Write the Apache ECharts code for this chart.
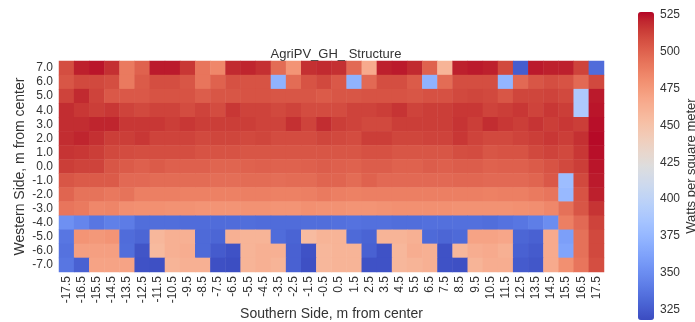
<!DOCTYPE html>
<html>
<head>
<meta charset="utf-8">
<script src="https://cdn.jsdelivr.net/npm/echarts@6/dist/echarts.min.js"></script>
<style>
  html, body { margin: 0; padding: 0; background: #ffffff; }
  #chart { width: 695px; height: 322px; }
</style>
</head>
<body>
<div id="chart"></div>
<script>
// ---- Data ----
const xLabels = ['-17.5','-16.5','-15.5','-14.5','-13.5','-12.5','-11.5','-10.5','-9.5','-8.5',
  '-7.5','-6.5','-5.5','-4.5','-3.5','-2.5','-1.5','-0.5','0.5','1.5','2.5','3.5','4.5','5.5',
  '6.5','7.5','8.5','9.5','10.5','11.5','12.5','13.5','14.5','15.5','16.5','17.5'];
const yLabels = ['7.0','6.0','5.0','4.0','3.0','2.0','1.0','0.0','-1.0','-2.0','-3.0','-4.0','-5.0','-6.0','-7.0'];

const rowP7 = [508,522,524,518,490,500,523,523,516,492,484,520,521,518,496,478,518,520,518,497,466,522,523,520,500,460,522,523,522,510,326,523,522,522,512,333];
const rowP6 = [505,510,510,508,490,503,508,508,505,492,500,507,506,506,372,496,506,510,504,372,497,508,508,503,372,496,508,508,508,374,497,505,508,506,497,510];
const rowP5 = [512,520,512,504,504,504,506,506,506,502,505,505,506,506,505,505,505,503,505,505,506,506,506,505,507,507,510,511,510,505,511,511,512,510,390,523];
const rowP4 = [519,516,514,516,512,510,512,512,509,512,509,516,512,512,510,512,509,509,509,512,512,514,517,512,514,514,516,516,512,514,516,512,516,514,390,524];
const rowP3 = [519,519,521,521,516,516,516,514,516,514,514,514,514,512,512,518,512,519,514,512,510,510,514,514,514,514,517,514,519,516,514,517,514,516,514,525];
const rowP2 = [519,521,518,514,514,516,512,512,512,510,511,511,510,511,509,509,509,511,510,509,514,514,511,511,512,512,516,512,510,510,512,514,516,514,518,526];
const rowP1 = [517,516,514,510,509,508,508,508,508,506,506,506,505,505,505,505,505,505,505,505,507,507,505,505,505,505,508,509,505,506,506,510,512,510,516,525];
const row0  = [514,512,512,505,503,501,503,501,501,501,499,499,500,501,500,500,501,502,501,500,502,502,500,500,502,501,502,502,500,501,501,503,506,510,514,524];
const rowM1 = [505,503,503,503,497,497,496,496,496,496,495,495,496,496,495,496,496,499,499,496,500,497,497,497,497,497,498,498,497,497,497,499,504,380,510,523];
const rowM2 = [499,493,493,491,493,488,488,488,487,487,487,487,488,488,487,487,488,490,488,487,488,488,488,488,488,488,488,488,487,488,488,490,492,377,506,522];
const rowM3 = [492,490,484,485,481,480,480,479,479,478,478,478,479,479,478,478,480,479,479,478,478,479,480,480,480,480,479,479,479,479,480,481,484,494,505,517];
const rowM4 = [352,346,338,343,341,334,334,334,333,333,333,333,334,333,333,333,334,334,335,336,335,335,334,334,335,335,335,335,334,336,338,342,350,488,497,512];
const rowM5 = [338,478,476,478,333,330,458,462,462,332,330,462,460,460,333,329,455,460,460,332,329,460,460,462,332,330,332,470,470,468,330,328,466,360,494,510];
const rowM6 = [336,472,472,472,334,322,456,462,464,332,325,321,460,462,462,328,321,458,460,460,328,321,458,464,462,321,458,464,466,462,328,325,466,363,494,510];
const rowM7 = [338,328,470,470,470,321,320,460,462,462,320,319,460,462,460,328,320,458,460,460,321,321,458,460,462,321,320,460,464,464,325,323,466,480,492,508];

const rows = [rowP7,rowP6,rowP5,rowP4,rowP3,rowP2,rowP1,row0,rowM1,rowM2,rowM3,rowM4,rowM5,rowM6,rowM7];

const colorbarTicks = [325,350,375,400,425,450,475,500,525];
const colorMin = 318;
const colorMax = 527;

// coolwarm colormap stops
const coolwarm = [
  [59,76,192],[68,90,204],[77,104,215],[87,117,225],[98,130,234],[108,142,241],[119,154,247],
  [130,165,251],[141,176,254],[152,185,255],[163,194,255],[174,201,253],[184,208,249],[194,213,244],
  [204,217,238],[213,219,230],[221,221,221],[229,216,209],[236,211,197],[241,204,184],[245,196,172],
  [247,187,160],[247,177,148],[247,166,137],[244,154,123],[241,141,111],[236,127,99],[229,112,88],
  [222,96,77],[213,80,66],[203,62,56],[192,40,47],[180,4,38]
].map(c => 'rgb(' + c.join(',') + ')');

// ---- Build series data ----
const heatData = [];
rows.forEach((row, yi) => {
  row.forEach((v, xi) => { heatData.push([xi, yi, v]); });
});

const FONT = 'Liberation Sans, Arial, sans-serif';
const TXT = '#333333';

const chart = echarts.init(document.getElementById('chart'), null, { renderer: 'canvas' });
chart.setOption({
  backgroundColor: '#ffffff',
  animation: false,
  textStyle: { fontFamily: FONT },
  title: {
    text: 'AgriPV_GH_ Structure',
    left: 331, top: 43,
    textAlign: 'center',
    textStyle: { fontSize: 13, fontWeight: 'normal', color: TXT, fontFamily: FONT }
  },
  grid: [
    { left: 59, top: 61, width: 545, height: 211, containLabel: false, outerBoundsMode: 'none' },
    { left: 638, top: 12, width: 16, height: 308, containLabel: false, outerBoundsMode: 'none' }
  ],
  xAxis: [
    {
      type: 'category', gridIndex: 0, data: xLabels,
      axisLine: { show: false }, axisTick: { show: false }, splitLine: { show: false },
      axisLabel: { rotate: 90, interval: 0, fontSize: 12, color: TXT, margin: 4, fontFamily: FONT },
      name: 'Southern Side, m from center', nameLocation: 'middle', nameGap: 35,
      nameMoveOverlap: false,
      nameTextStyle: { fontSize: 14, color: TXT, fontFamily: FONT }
    },
    { type: 'value', gridIndex: 1, show: false }
  ],
  yAxis: [
    {
      type: 'category', gridIndex: 0, data: yLabels, inverse: true,
      axisLine: { show: false }, axisTick: { show: false }, splitLine: { show: false },
      axisLabel: { interval: 0, fontSize: 12, color: TXT, margin: 6, fontFamily: FONT },
      name: 'Western Side, m from center', nameLocation: 'middle', nameGap: 32,
      nameMoveOverlap: false,
      nameTextStyle: { fontSize: 14, color: TXT, fontFamily: FONT }
    },
    {
      type: 'value', gridIndex: 1, position: 'right', min: colorMin, max: colorMax,
      axisLine: { show: false }, splitLine: { show: false },
      axisTick: { show: true, length: 4, customValues: colorbarTicks, lineStyle: { color: TXT, width: 1 } },
      axisLabel: { customValues: colorbarTicks, fontSize: 12, color: TXT, margin: 6, fontFamily: FONT },
      name: 'Watts per square meter', nameLocation: 'middle', nameGap: 31, nameRotate: 90,
      nameMoveOverlap: false,
      nameTextStyle: { fontSize: 13, color: TXT, fontFamily: FONT }
    }
  ],
  visualMap: {
    type: 'continuous', min: colorMin, max: colorMax, seriesIndex: 0,
    calculable: false, realtime: false, hoverLink: false,
    orient: 'vertical', left: 638, top: 12, itemWidth: 16, itemHeight: 308,
    padding: 0, text: null, showLabel: false,
    inRange: { color: coolwarm }
  },
  series: [{
    type: 'heatmap', xAxisIndex: 0, yAxisIndex: 0, data: heatData,
    itemStyle: { borderWidth: 0 },
    emphasis: { disabled: true }, silent: true
  }]
});
</script>
</body>
</html>
